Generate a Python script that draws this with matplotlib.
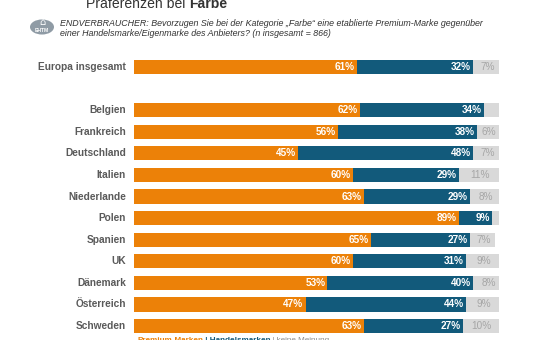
import matplotlib.pyplot as plt
from matplotlib.patches import Circle

countries = ["Europa insgesamt", "Belgien", "Frankreich", "Deutschland", "Italien",
             "Niederlande", "Polen", "Spanien", "UK", "Dänemark", "Österreich", "Schweden"]
premium = [61, 62, 56, 45, 60, 63, 89, 65, 60, 53, 47, 63]
handel = [32, 34, 38, 48, 29, 29, 9, 27, 31, 40, 44, 27]
keine = [7, 4, 6, 7, 11, 8, 2, 7, 9, 8, 9, 10]
show_keine = [True, False, True, True, True, True, False, True, True, True, True, True]
ypos = [0, 2, 3, 4, 5, 6, 7, 8, 9, 10, 11, 12]

ORANGE = "#ec8108"
BLUE = "#125a7b"
GRAY = "#d9d9d9"
W, H = 542, 340

plt.rcParams["font.family"] = ["Liberation Sans", "DejaVu Sans"]
fig = plt.figure(figsize=(W / 100, H / 100), dpi=100)
fig.patch.set_facecolor("white")


def text_after(t, s, **kw):
    # put a text right behind another one on the same baseline
    fig.canvas.draw()
    bb = t.get_window_extent().transformed(fig.transFigure.inverted())
    return fig.text(bb.x1, t.get_position()[1], s, ha="left", va="baseline", **kw)


# bar area: x 134..499 px, rows 67..326 px
top = 67 - 0.5 * 21.6
bot = 326 + 0.5 * 21.6
ax = fig.add_axes([134 / W, 1 - bot / H, 365 / W, (bot - top) / H])
ax.set_xlim(0, 100)
ax.set_ylim(12.5, -0.5)
ax.axis("off")

bh = 0.66
ax.barh(ypos, premium, height=bh, color=ORANGE, edgecolor="none")
ax.barh(ypos, handel, left=premium, height=bh, color=BLUE, edgecolor="none")
left2 = [p + h for p, h in zip(premium, handel)]
ax.barh(ypos, keine, left=left2, height=bh, color=GRAY, edgecolor="none")

for y, name, p, h, k, s in zip(ypos, countries, premium, handel, keine, show_keine):
    ax.text(-2.2, y, name, ha="right", va="center", fontsize=7.3, fontweight="bold",
            color="#5a5a5a")
    ax.text(p - 0.6, y, f"{p}%", ha="right", va="center", fontsize=7.2,
            fontweight="bold", color="white")
    ax.text(p + h - 0.6, y, f"{h}%", ha="right", va="center", fontsize=7.2,
            fontweight="bold", color="white")
    if s:
        ax.text(p + h + k / 2 + 0.3, y, f"{k}%", ha="center", va="center",
                fontsize=7.2, color="#a6a6a6")

# title (cut off at top edge)
t = fig.text(86 / W, 1 - 8.5 / H, "Präferenzen bei ", fontsize=10.1, color="#333333",
             ha="left", va="baseline")
text_after(t, "Farbe", fontsize=10.1, fontweight="bold", color="#333333")

# icon
fig.patches.append(Circle((42 / W, 1 - 27 / H), 12 / W, transform=fig.transFigure,
                          facecolor="#8f9ba5", edgecolor="none"))
fig.text(42 / W, 1 - 30 / H, "EHTM", fontsize=3.6, fontweight="bold", color="white",
         ha="center", va="center")
fig.text(42 / W, 1 - 22 / H, "⌂", fontsize=7, color="white", ha="center", va="center",
         family=["DejaVu Sans"])

# subtitle
fig.text(60 / W, 1 - 23 / H,
         "ENDVERBRAUCHER: Bevorzugen Sie bei der Kategorie \u201eFarbe\u201c eine etablierte Premium-Marke gegenüber",
         fontsize=6.4, style="italic", color="#333333", ha="left", va="center")
fig.text(60 / W, 1 - 34 / H,
         "einer Handelsmarke/Eigenmarke des Anbieters? (n insgesamt = 866)",
         fontsize=6.4, style="italic", color="#333333", ha="left", va="center")

# legend line at bottom (cut off like in the source)
t1 = fig.text(137 / W, 1 - 342 / H, "Premium-Marken", fontsize=5.9, fontweight="bold",
              color=ORANGE, ha="left", va="baseline")
t2 = text_after(t1, " | Handelsmarken", fontsize=5.9, fontweight="bold", color=BLUE)
text_after(t2, " | keine Meinung", fontsize=5.9, color="#8c8c8c")

fig.savefig("out.png", dpi=100)
